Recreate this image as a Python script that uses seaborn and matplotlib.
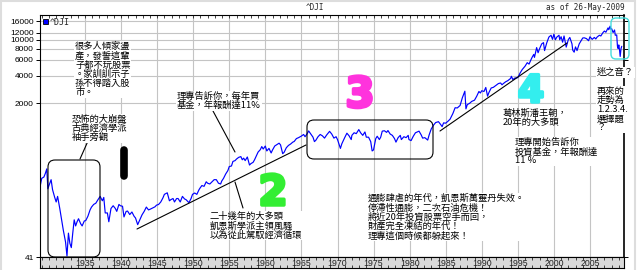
import matplotlib
matplotlib.use("Agg")
import numpy as np
import pandas as pd
import matplotlib.pyplot as plt
import seaborn as sns
from matplotlib.transforms import IdentityTransform
from matplotlib.patches import FancyBboxPatch, Rectangle, Patch
from matplotlib.lines import Line2D
from matplotlib.ticker import NullLocator, FixedLocator
import matplotlib.patheffects as pe

# ---------------- data ----------------
dji_year = [
    1928.8, 1929.0, 1929.3, 1929.5, 1929.7, 1929.85, 1930.0, 1930.3, 1930.5, 1930.8,
    1931.0, 1931.2, 1931.5, 1931.8, 1932.0, 1932.3, 1932.5, 1932.7, 1932.9, 1933.1,
    1933.3, 1933.5, 1933.7, 1933.9, 1934.1, 1934.4, 1934.6, 1934.9, 1935.1, 1935.4,
    1935.7, 1935.9, 1936.2, 1936.5, 1936.8, 1937.1, 1937.4, 1937.6, 1937.8, 1938.1,
    1938.3, 1938.6, 1938.9, 1939.2, 1939.4, 1939.7, 1939.9, 1940.2, 1940.4, 1940.7,
    1940.9, 1941.2, 1941.5, 1941.8, 1942.0, 1942.3, 1942.6, 1942.9, 1943.2, 1943.5,
    1943.8, 1944.0, 1944.4, 1944.7, 1944.9, 1945.2, 1945.5, 1945.8, 1946.0, 1946.4,
    1946.7, 1946.9, 1947.2, 1947.4, 1947.7, 1947.9, 1948.2, 1948.5, 1948.8, 1949.0,
    1949.4, 1949.7, 1949.9, 1950.2, 1950.5, 1950.8, 1950.95, 1951.2, 1951.5, 1951.8,
    1952.0, 1952.3, 1952.6, 1952.9, 1953.2, 1953.5, 1953.8, 1953.95, 1954.2, 1954.5,
    1954.8, 1954.99, 1955.3, 1955.5, 1955.8, 1955.99, 1956.3, 1956.6, 1956.8, 1956.99,
    1957.2, 1957.5, 1957.8, 1957.99, 1958.3, 1958.5, 1958.8, 1958.99, 1959.3, 1959.5,
    1959.7, 1959.99, 1960.2, 1960.5, 1960.8, 1960.99, 1961.3, 1961.6, 1961.9, 1962.1,
    1962.4, 1962.6, 1962.9, 1963.2, 1963.5, 1963.8, 1963.99, 1964.3, 1964.6, 1964.99,
    1965.3, 1965.5, 1965.8, 1966.0, 1966.3, 1966.6, 1966.8, 1966.99, 1967.3, 1967.6,
    1967.9, 1968.2, 1968.5, 1968.9, 1969.2, 1969.5, 1969.8, 1970.0, 1970.4, 1970.6,
    1970.99, 1971.3, 1971.6, 1971.9, 1971.99, 1972.3, 1972.6, 1972.95, 1973.2, 1973.5,
    1973.8, 1973.99, 1974.3, 1974.6, 1974.8, 1974.99, 1975.3, 1975.5, 1975.8, 1975.99,
    1976.2, 1976.5, 1976.8, 1976.99, 1977.3, 1977.6, 1977.9, 1978.1, 1978.4, 1978.7,
    1978.85, 1979.2, 1979.5, 1979.8, 1979.9, 1980.2, 1980.5, 1980.8, 1980.99, 1981.3,
    1981.6, 1981.8, 1982.1, 1982.5, 1982.7, 1982.99, 1983.3, 1983.6, 1983.99, 1984.3,
    1984.5, 1984.7, 1984.99, 1985.3, 1985.6, 1985.99, 1986.3, 1986.6, 1986.99, 1987.3,
    1987.65, 1987.8, 1987.99, 1988.3, 1988.6, 1988.99, 1989.3, 1989.6, 1989.8, 1989.99,
    1990.3, 1990.55, 1990.8, 1990.99, 1991.3, 1991.6, 1991.99, 1992.3, 1992.6, 1992.8,
    1992.99, 1993.3, 1993.6, 1993.99, 1994.1, 1994.3, 1994.6, 1994.99, 1995.3, 1995.6,
    1995.99, 1996.3, 1996.55, 1996.8, 1996.99, 1997.2, 1997.3, 1997.6, 1997.8, 1997.99,
    1998.3, 1998.55, 1998.7, 1998.99, 1999.3, 1999.6, 1999.8, 1999.99, 2000.2, 2000.4,
    2000.7, 2000.8, 2000.99, 2001.2, 2001.4, 2001.7, 2001.99, 2002.2, 2002.5, 2002.6,
    2002.8, 2002.99, 2003.2, 2003.5, 2003.99, 2004.2, 2004.5, 2004.8, 2004.99, 2005.3,
    2005.6, 2005.8, 2005.99, 2006.3, 2006.5, 2006.8, 2006.99, 2007.2, 2007.5, 2007.6,
    2007.78, 2007.9, 2007.99, 2008.2, 2008.4, 2008.5, 2008.7, 2008.8, 2008.9, 2008.99,
    2009.1, 2009.18, 2009.3, 2009.4,
]
dji_close = [
    250, 300, 310, 340, 381, 230, 250, 290, 225, 185,
    165, 190, 140, 100, 80, 60, 42, 75, 58, 52,
    75, 105, 90, 100, 108, 95, 90, 102, 103, 115,
    135, 145, 155, 160, 175, 190, 170, 185, 125, 125,
    100, 140, 150, 140, 130, 155, 150, 148, 113, 130,
    131, 120, 128, 115, 110, 93, 105, 119, 130, 145,
    135, 137, 142, 146, 152, 155, 165, 183, 200, 208,
    170, 175, 180, 165, 180, 180, 165, 190, 178, 175,
    162, 180, 200, 207, 200, 225, 235, 250, 245, 275,
    265, 260, 275, 290, 290, 265, 260, 280, 300, 335,
    365, 404, 410, 460, 470, 488, 510, 520, 480, 500,
    470, 515, 420, 435, 450, 480, 540, 583, 620, 670,
    630, 679, 600, 640, 570, 615, 680, 705, 730, 700,
    560, 580, 650, 690, 715, 750, 762, 820, 840, 874,
    910, 860, 930, 995, 920, 850, 760, 785, 860, 910,
    880, 830, 900, 985, 920, 830, 860, 800, 640, 720,
    839, 940, 880, 800, 890, 950, 930, 1030, 950, 890,
    970, 850, 850, 760, 600, 616, 820, 870, 800, 852,
    990, 1000, 960, 1005, 920, 890, 820, 750, 840, 890,
    800, 860, 840, 890, 800, 780, 870, 950, 964, 990,
    900, 830, 840, 790, 900, 1046, 1150, 1230, 1258, 1170,
    1110, 1220, 1211, 1270, 1340, 1546, 1790, 1780, 1895, 2300,
    2720, 1740, 1938, 2000, 2100, 2168, 2400, 2700, 2600, 2753,
    2700, 2990, 2400, 2633, 2950, 3000, 3168, 3300, 3350, 3200,
    3301, 3450, 3550, 3754, 3970, 3650, 3800, 3834, 4300, 4700,
    5117, 5600, 5400, 6000, 6448, 6900, 6400, 8200, 7200, 7908,
    9000, 9300, 7600, 9181, 10700, 11200, 10100, 11497, 10000, 10700,
    11200, 10000, 10787, 9400, 11000, 8300, 10021, 10600, 9000, 7700,
    7300, 8341, 7600, 9000, 10453, 10500, 10300, 9750, 10783, 10100,
    10600, 10200, 10717, 11200, 11000, 12000, 12463, 12100, 13500, 12900,
    14100, 13000, 13264, 12000, 12800, 11200, 11300, 8500, 8000, 8776,
    7600, 6547, 8000, 8470,
]
ytick_values = [41, 2000, 4000, 6000, 8000, 10000, 12000, 16000]
ytick_labels = ["41", "2000", "4000", "6000", "8000", "10000", "12000", "16000"]
xtick_years = list(range(1935, 2010, 5))
series_name = "^DJI"
as_of_text = "as of 26-May-2009"

# ---------------- figure ----------------
sns.set_theme(style="white")
plt.rcParams['font.family'] = ['Noto Sans CJK TC', 'DejaVu Sans']

W, H = 640, 270
fig = plt.figure(figsize=(W / 100, H / 100), dpi=100)
fig.patch.set_facecolor("white")

def fx(x):
    return x / W

def fy(y):
    return 1 - y / H

AX_L, AX_R, AX_T, AX_B = 40, 624, 15, 257
ax = fig.add_axes([fx(AX_L), fy(AX_B), fx(AX_R) - fx(AX_L), fy(AX_T) - fy(AX_B)])
ax.set_facecolor("white")

df = pd.DataFrame({"year": dji_year, "close": dji_close})
sns.lineplot(data=df, x="year", y="close", ax=ax, color="#0000ff", lw=0.85,
             estimator=None, sort=False, legend=False)
ax.set_yscale("log")
ax.set_xlim(1928.76, 2009.71)
ax.set_ylim(41, 18700)
ax.set_xlabel("")
ax.set_ylabel("")

ax.yaxis.set_major_locator(FixedLocator(ytick_values))
ax.set_yticklabels(ytick_labels)
ax.yaxis.set_minor_locator(NullLocator())
ax.xaxis.set_major_locator(FixedLocator(xtick_years))
ax.xaxis.set_minor_locator(FixedLocator(list(range(1929, 2010))))
ax.tick_params(axis="y", which="major", left=True, right=True, direction="out",
               length=3, width=0.7, labelsize=6, pad=1.5, colors="black")
for lab in ax.get_yticklabels():
    lab.set_family("Liberation Sans")
ax.tick_params(axis="x", which="both", bottom=False, top=True, labelbottom=False,
               direction="in", length=2, width=0.6)
ax.grid(True, which="major", color="#c4c4c4", lw=0.8)
for s in ax.spines.values():
    s.set_color("black")
    s.set_linewidth(0.8)
ax.spines["right"].set_linewidth(1.2)

leg = ax.legend(handles=[Patch(facecolor="#0000ff", edgecolor="black", lw=0.6, label=series_name)],
                loc="upper left", frameon=False, handlelength=0.6, handleheight=0.6,
                handletextpad=0.3, borderaxespad=0.1, borderpad=0.2,
                prop=dict(family="DejaVu Sans Mono", size=6))

# date band
bax = fig.add_axes([fx(AX_L), fy(268), fx(AX_R) - fx(AX_L), fy(AX_B) - fy(268)])
bax.set_facecolor("#d9d9d9")
bax.set_xlim(ax.get_xlim())
bax.set_ylim(0, 1)
bax.set_yticks([])
bax.xaxis.set_major_locator(FixedLocator(xtick_years))
bax.xaxis.set_minor_locator(FixedLocator(list(range(1929, 2010))))
bax.tick_params(axis="x", which="both", bottom=True, top=True, labelbottom=False,
                direction="in", length=2, width=0.6)
for yr in xtick_years:
    bax.text(yr, 0.45, str(yr), ha="center", va="center", fontsize=6.3,
             family="Liberation Sans", color="#222222",
             transform=bax.get_xaxis_transform())
for s in bax.spines.values():
    s.set_color("black")
    s.set_linewidth(0.8)

# ---------------- annotations (pixel coordinates) ----------------
ID = IdentityTransform()

def T(x, y, s, size=6.7, ls=1.0, color="black", bg=True, **kw):
    bb = dict(facecolor="white", edgecolor="none", pad=0.6) if bg else None
    fig.text(x, H - y, s, transform=ID, fontsize=size, linespacing=ls,
             color=color, ha="left", va="top", bbox=bb, zorder=7, **kw)

def L(x0, y0, x1, y1, color="black", lw=0.8, **kw):
    fig.add_artist(Line2D([x0, x1], [H - y0, H - y1], transform=ID, color=color,
                          lw=lw, zorder=4, **kw))

def R(x0, y0, x1, y1, color="black", lw=0.8, r=7):
    fig.add_artist(FancyBboxPatch((x0, H - y1), x1 - x0, y1 - y0,
                                  boxstyle=f"round,pad=0,rounding_size={r}",
                                  transform=ID, fill=False, ec=color, lw=lw, zorder=4))

# outer light frame
fig.add_artist(Rectangle((1, -2), 634, H + 1, transform=ID, fill=False,
                         ec="#dddddd", lw=1.5, zorder=0))

fig.text(315, H - 8, series_name, transform=ID, ha="center", va="center",
         fontsize=5.5, family="DejaVu Sans Mono")
fig.text(625, H - 8, as_of_text, transform=ID, ha="right", va="center",
         fontsize=5.5, family="DejaVu Sans Mono")

R(48, 160, 100, 257)
R(307, 120, 433, 159)
R(611, 18, 629, 59, color="#44dddd", lw=1.0, r=5)

L(137, 229, 306, 145)
L(440, 131, 567, 43)
L(88, 141, 80, 159)
L(213, 111, 235, 152)
L(235, 182, 243, 208)

fig.add_artist(Line2D([124, 124], [H - 150, H - 176], transform=ID, color="black",
                      lw=5.5, solid_capstyle="round", zorder=4))

def BIG(x, y, s, color, size=30):
    fig.text(x, H - y, s, transform=ID, ha="center", va="center", fontsize=size,
             fontweight="bold", family="DejaVu Sans", color=color, zorder=6,
             path_effects=[pe.withStroke(linewidth=2.5, foreground=color)])

BIG(360, 95, "3", "#ff33dd")
BIG(273, 193, "2", "#33ee33")
BIG(531, 92, "4", "#33eeee", size=27)

T(75, 42, "很多人傾家盪\n產，發誓這輩\n子都不玩股票\n。家訓訓示子\n孫不得踏入股\n市。")
T(72, 115, "恐怖的大崩盤\n古典經濟學派\n袖手旁觀")
T(177, 92, "理專告訴你，每年買\n基金，年報酬達11%")
T(210, 212, "二十幾年的大多頭\n凱恩斯學派主領風騷\n以為從此駕馭經濟循環")
T(368, 194, "通膨肆虐的年代，凱恩斯萬靈丹失效。\n停滯性通膨，二次石油危機！\n"
            "將近20年投資股票空手而回，\n財產完全凍結的年代！\n理專這個時候都躲起來！")
T(515, 138, "理專開始告訴你\n投資基金，年報酬達\n11 %")
T(503, 109, "葛林斯潘王朝，\n20年的大多頭", bg=False)
T(597, 68, "迷之音？")
T(597, 87, "再來的\n走勢為\n1.2.3.4.\n選擇題\n？")

fig.savefig("out.png", dpi=100)
